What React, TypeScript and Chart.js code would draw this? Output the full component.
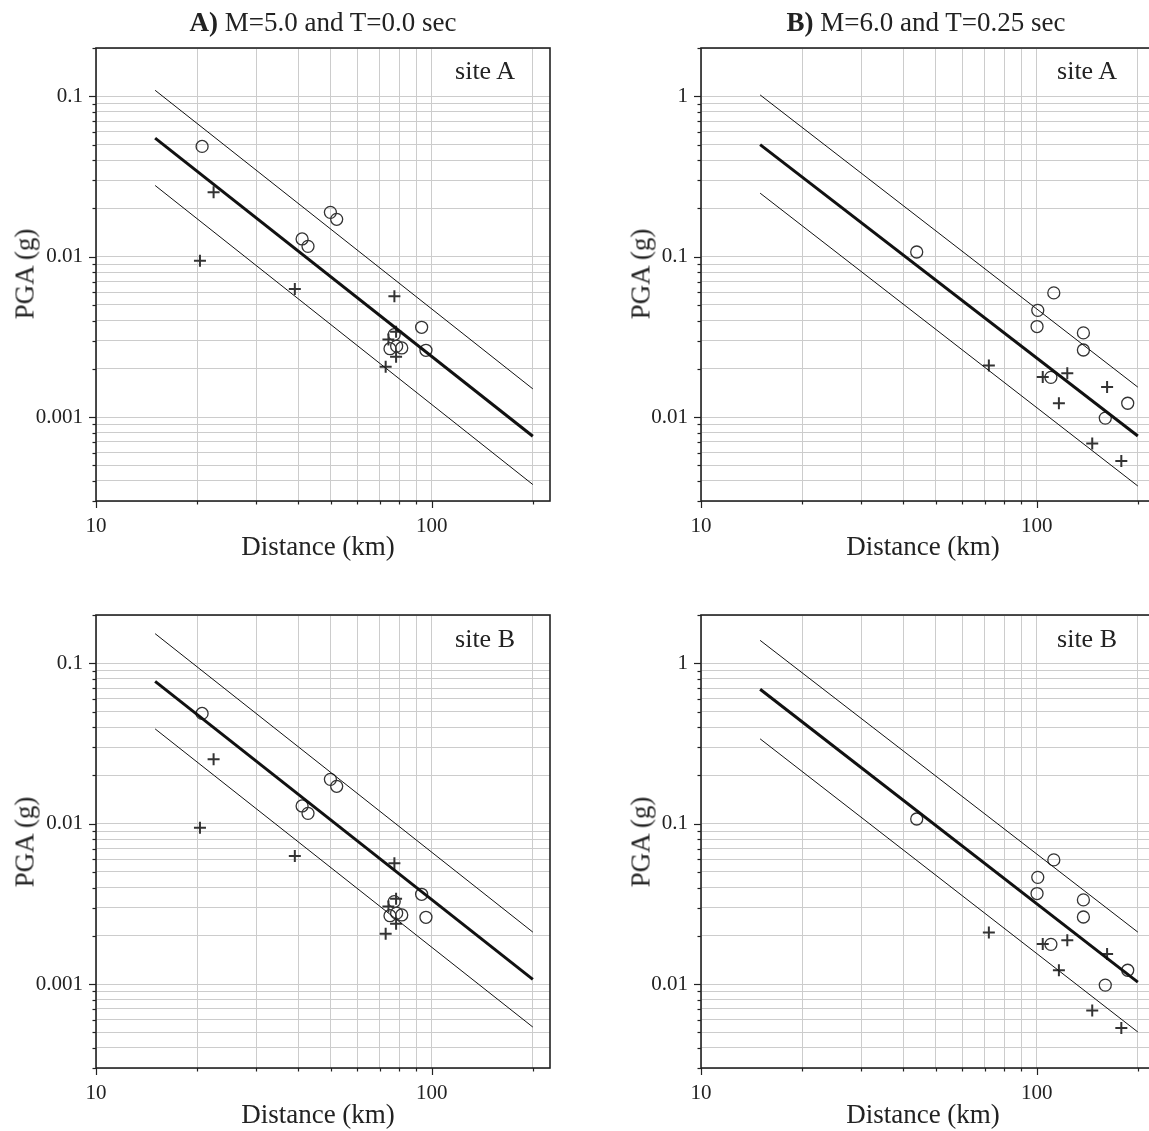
import React, { useEffect, useRef } from "react";
import { Chart, registerables } from "chart.js";

Chart.register(...registerables);

// ---------- DATA ----------
// model line end points (distance, km)
const lineDist = [15, 200];

// A) M=5.0, T=0.0 s — observed records (same in site A and site B panels)
const distA_circle = [20.7, 49.9, 52.1, 41.1, 42.8, 93.3, 96.1, 77.3, 75.1, 78.6, 81.4];
const pgaA_circle = [0.0487, 0.0189, 0.0171, 0.0129, 0.0116, 0.00363, 0.00261, 0.00327, 0.00267, 0.00277, 0.0027];
const distA_cross = [22.4, 20.4, 39.1, 77.4, 72.9, 74.3, 78.3, 78.3];
const pgaA_cross = [0.0252, 0.00944, 0.0063, 0.00566, 0.00206, 0.00305, 0.0034, 0.00238];

// B) M=6.0, T=0.25 s — observed records
const distB_circle = [43.9, 112.4, 100.7, 100.2, 137.7, 137.7, 110.2, 186.6, 160];
const pgaB_circle = [0.107, 0.0595, 0.0463, 0.0367, 0.0335, 0.0262, 0.0177, 0.0122, 0.00986];
const distB_cross = [72, 104.2, 123.3, 162, 116.4, 146.3, 178.6];
const pgaB_cross = [0.021, 0.0178, 0.0188, 0.0154, 0.0122, 0.00686, 0.00532];

// model predictions at lineDist (median, +1 sigma, -1 sigma)
const A_siteA_median = [0.0548, 0.00076];
const A_siteA_upper = [0.109, 0.0015];
const A_siteA_lower = [0.0278, 0.00038];
const A_siteB_median = [0.0772, 0.00107];
const A_siteB_upper = [0.153, 0.00211];
const A_siteB_lower = [0.039, 0.00054];
const B_siteA_median = [0.5, 0.00762];
const B_siteA_upper = [1.02, 0.01538];
const B_siteA_lower = [0.249, 0.00372];
const B_siteB_median = [0.689, 0.0103];
const B_siteB_upper = [1.39, 0.0211];
const B_siteB_lower = [0.338, 0.00503];

// axes
const xMin = 10;
const xMax = 225;
const xTickValues = [10, 20, 30, 40, 50, 60, 70, 80, 90, 100, 200];
const xTickLabels = ["10", "100"];
const yRangeA = [0.0003, 0.2];
const yRangeB = [0.003, 2];
const yTickLabelsA = ["0.1", "0.01", "0.001"];
const yTickLabelsB = ["1", "0.1", "0.01"];

// ---------- HELPERS ----------
const FONT = '"Liberation Serif", "Times New Roman", serif';
const INK = "#222";
const MARK = "#333";

function pts(xs: number[], ys: number[]) {
  return xs.map((x, i) => ({ x, y: ys[i] }));
}

function logTicks(min: number, max: number) {
  const out: number[] = [];
  for (let e = Math.floor(Math.log10(min)); e <= Math.ceil(Math.log10(max)); e++) {
    for (let m = 1; m <= 9; m++) {
      const v = parseFloat((m * Math.pow(10, e)).toPrecision(6));
      if (v >= min * 0.9999 && v <= max * 1.0001) out.push(v);
    }
  }
  return out;
}

function isPow10(v: number) {
  const l = Math.log10(v);
  return Math.abs(l - Math.round(l)) < 1e-6;
}

const framePlugin = {
  id: "frame",
  afterDraw(chart: any) {
    const { ctx, chartArea, scales } = chart;
    const { left, right, top, bottom } = chartArea;
    ctx.save();
    ctx.strokeStyle = INK;
    ctx.lineWidth = 1.2;
    // ticks on y
    scales.y.ticks.forEach((t: any) => {
      const y = Math.round(scales.y.getPixelForValue(t.value)) + 0.5;
      const len = isPow10(t.value) ? 7 : 3.5;
      ctx.beginPath();
      ctx.moveTo(left - len, y);
      ctx.lineTo(left, y);
      ctx.stroke();
    });
    scales.x.ticks.forEach((t: any) => {
      const x = Math.round(scales.x.getPixelForValue(t.value)) + 0.5;
      const len = isPow10(t.value) ? 7 : 3.5;
      ctx.beginPath();
      ctx.moveTo(x, bottom);
      ctx.lineTo(x, bottom + len);
      ctx.stroke();
    });
    ctx.lineWidth = 1.6;
    ctx.strokeRect(left, top, right - left, bottom - top);
    ctx.restore();
  },
};

type PanelSpec = {
  left: number;
  top: number;
  yRange: number[];
  yLabels: string[];
  dC: number[];
  pC: number[];
  dX: number[];
  pX: number[];
  med: number[];
  up: number[];
  lo: number[];
};

function Panel({ spec }: { spec: PanelSpec }) {
  const ref = useRef<HTMLCanvasElement | null>(null);
  useEffect(() => {
    if (!ref.current) return;
    const yTicks = logTicks(spec.yRange[0], spec.yRange[1]);
    const lineDs = (vals: number[], w: number) => ({
      data: pts(lineDist, vals),
      showLine: true,
      borderColor: "#111",
      borderWidth: w,
      pointRadius: 0,
      fill: false,
    });
    const chart = new Chart(ref.current, {
      type: "scatter",
      data: {
        datasets: [
          lineDs(spec.up, 1),
          lineDs(spec.lo, 1),
          lineDs(spec.med, 3),
          {
            data: pts(spec.dC, spec.pC),
            pointStyle: "circle",
            pointRadius: 6,
            borderColor: MARK,
            borderWidth: 1.3,
            backgroundColor: "rgba(0,0,0,0)",
          },
          {
            data: pts(spec.dX, spec.pX),
            pointStyle: "cross",
            pointRadius: 6,
            borderColor: MARK,
            borderWidth: 2,
            backgroundColor: "rgba(0,0,0,0)",
          },
        ],
      } as any,
      options: {
        animation: false,
        responsive: false,
        devicePixelRatio: 1,
        layout: { padding: { top: 48, right: 50, bottom: 0, left: 0 } },
        plugins: { legend: { display: false }, tooltip: { enabled: false } },
        scales: {
          x: {
            type: "logarithmic",
            min: xMin,
            max: xMax,
            border: { display: false },
            grid: { color: "#cccccc", lineWidth: 1, drawTicks: false },
            ticks: {
              autoSkip: false,
              maxRotation: 0,
              padding: 13,
              color: INK,
              font: { family: FONT, size: 21 },
              callback: (v: any) => {
                const s = String(v);
                return xTickLabels.includes(s) ? s : "";
              },
            },
            afterBuildTicks: (s: any) => {
              s.ticks = xTickValues.map((v) => ({ value: v }));
            },
            afterFit: (s: any) => {
              s.height = 59;
            },
          },
          y: {
            type: "logarithmic",
            min: spec.yRange[0],
            max: spec.yRange[1],
            border: { display: false },
            grid: { color: "#cccccc", lineWidth: 1, drawTicks: false },
            ticks: {
              autoSkip: false,
              padding: 13,
              color: INK,
              font: { family: FONT, size: 21 },
              callback: (v: any) => {
                const s = String(v);
                return spec.yLabels.includes(s) ? s : "";
              },
            },
            afterBuildTicks: (s: any) => {
              s.ticks = yTicks.map((v) => ({ value: v }));
            },
            afterFit: (s: any) => {
              s.width = 96;
            },
          },
        },
      } as any,
      plugins: [framePlugin],
    });
    return () => chart.destroy();
  }, [spec]);
  return (
    <canvas
      ref={ref}
      width={600}
      height={560}
      style={{ position: "absolute", left: spec.left - 96, top: spec.top - 48, width: 600, height: 560 }}
    />
  );
}

const panels: PanelSpec[] = [
  { left: 96, top: 48, yRange: yRangeA, yLabels: yTickLabelsA, dC: distA_circle, pC: pgaA_circle, dX: distA_cross, pX: pgaA_cross, med: A_siteA_median, up: A_siteA_upper, lo: A_siteA_lower },
  { left: 701, top: 48, yRange: yRangeB, yLabels: yTickLabelsB, dC: distB_circle, pC: pgaB_circle, dX: distB_cross, pX: pgaB_cross, med: B_siteA_median, up: B_siteA_upper, lo: B_siteA_lower },
  { left: 96, top: 615, yRange: yRangeA, yLabels: yTickLabelsA, dC: distA_circle, pC: pgaA_circle, dX: distA_cross, pX: pgaA_cross, med: A_siteB_median, up: A_siteB_upper, lo: A_siteB_lower },
  { left: 701, top: 615, yRange: yRangeB, yLabels: yTickLabelsB, dC: distB_circle, pC: pgaB_circle, dX: distB_cross, pX: pgaB_cross, med: B_siteB_median, up: B_siteB_upper, lo: B_siteB_lower },
];

function Txt({ x, y, size, children, anchor = "center", rotate = 0 }: any) {
  const tx = anchor === "right" ? "-100%" : "-50%";
  return (
    <div
      style={{
        position: "absolute",
        left: x,
        top: y,
        fontSize: size,
        lineHeight: 1,
        whiteSpace: "nowrap",
        fontFamily: FONT,
        color: INK,
        transform: `translate(${tx}, -50%)` + (rotate ? ` rotate(${rotate}deg)` : ""),
        transformOrigin: "center",
      }}
    >
      {children}
    </div>
  );
}

export default function App() {
  return (
    <div
      style={{
        position: "fixed",
        left: 0,
        top: 0,
        width: 1149,
        height: 1131,
        overflow: "hidden",
        background: "#fff",
      }}
    >
      {panels.map((p, i) => (
        <Panel key={i} spec={p} />
      ))}
      <Txt x={323} y={22} size={27}>
        <b>A)</b> M=5.0 and T=0.0 sec
      </Txt>
      <Txt x={926} y={22} size={27}>
        <b>B)</b> M=6.0 and T=0.25 sec
      </Txt>
      <Txt x={515} y={71} size={26} anchor="right">site A</Txt>
      <Txt x={1117} y={71} size={26} anchor="right">site A</Txt>
      <Txt x={515} y={639} size={26} anchor="right">site B</Txt>
      <Txt x={1117} y={639} size={26} anchor="right">site B</Txt>
      <Txt x={25} y={274} size={27} rotate={-90}>PGA (g)</Txt>
      <Txt x={641} y={274} size={27} rotate={-90}>PGA (g)</Txt>
      <Txt x={25} y={842} size={27} rotate={-90}>PGA (g)</Txt>
      <Txt x={641} y={842} size={27} rotate={-90}>PGA (g)</Txt>
      <Txt x={318} y={546} size={27}>Distance (km)</Txt>
      <Txt x={923} y={546} size={27}>Distance (km)</Txt>
      <Txt x={318} y={1114} size={27}>Distance (km)</Txt>
      <Txt x={923} y={1114} size={27}>Distance (km)</Txt>
    </div>
  );
}
